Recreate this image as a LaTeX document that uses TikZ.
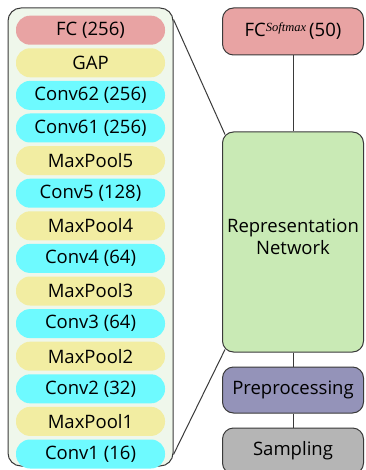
\documentclass[tikz,border=0pt]{standalone}
\usepackage{fontspec}
\setmainfont{Open Sans}
\newfontfamily\supfont{Liberation Serif}
\usetikzlibrary{positioning}
\definecolor{fcred}{HTML}{E8A3A3}
\definecolor{gapyellow}{HTML}{F2EDA2}
\definecolor{convcyan}{HTML}{6EFAFF}
\definecolor{netfill}{HTML}{EFF7EB}
\definecolor{repgreen}{HTML}{C9EAB5}
\definecolor{prepurple}{HTML}{9493B9}
\definecolor{sampgray}{HTML}{B5B5B5}
\definecolor{edge}{HTML}{3A3A3A}

\begin{document}
\begin{tikzpicture}[x=1pt, y=-1pt,
    layer/.style={rounded corners=14pt, minimum width=149pt, minimum height=29pt,
      inner sep=0pt, font=\fontsize{18.5}{20}\selectfont},
    block/.style={draw=edge, line width=1pt, rounded corners=11pt, minimum width=141pt,
      inner sep=0pt, align=center, font=\fontsize{18.5}{22}\selectfont}]
  \useasboundingbox (0,0) rectangle (365,470);
  % left: layers of the representation network
  \node[draw=edge, line width=1pt, fill=netfill, rounded corners=13pt,
        minimum width=165pt, minimum height=458pt] (net) at (90.5,237) {};
  \foreach \name/\col [count=\i] in {Conv1 (16)/convcyan, MaxPool1/gapyellow,
      Conv2 (32)/convcyan, MaxPool2/gapyellow, Conv3 (64)/convcyan, MaxPool3/gapyellow,
      Conv4 (64)/convcyan, MaxPool4/gapyellow, Conv5 (128)/convcyan, MaxPool5/gapyellow,
      Conv61 (256)/convcyan, Conv62 (256)/convcyan, GAP/gapyellow, FC (256)/fcred}
    \node[layer, fill=\col] (l\i) at (90.5,{454-32.6*(\i-1)}) {\name};
  % right: pipeline
  \node[block, fill=fcred, minimum height=47pt] (fcs) at (293,31.5)
    {FC\raisebox{0.5ex}{\supfont\itshape\fontsize{12.5}{14}\selectfont Softmax}\,(50)};
  \node[block, fill=repgreen, minimum height=220pt] (rep) at (293,242) {};
  \node[align=center, font=\fontsize{18.5}{22}\selectfont] (reptext) at (293,237)
    {Representation\\Network};
  \node[block, fill=prepurple, minimum height=46pt] (pre) at (293,390) {Preprocessing};
  \node[block, fill=sampgray, minimum height=46pt] (samp) at (293,451) {Sampling};
  \draw[edge, line width=1pt] (fcs) -- (rep);
  \draw[edge, line width=1pt] (rep) -- (pre);
  \draw[edge, line width=1pt] (pre) -- (samp);
  \draw[edge, line width=1pt] ([yshift=-12pt]net.north east) -- ([xshift=3pt,yshift=-3pt]rep.north west);
  \draw[edge, line width=1pt] ([yshift=12pt]net.south east) -- ([xshift=3pt,yshift=3pt]rep.south west);
\end{tikzpicture}
\end{document}
